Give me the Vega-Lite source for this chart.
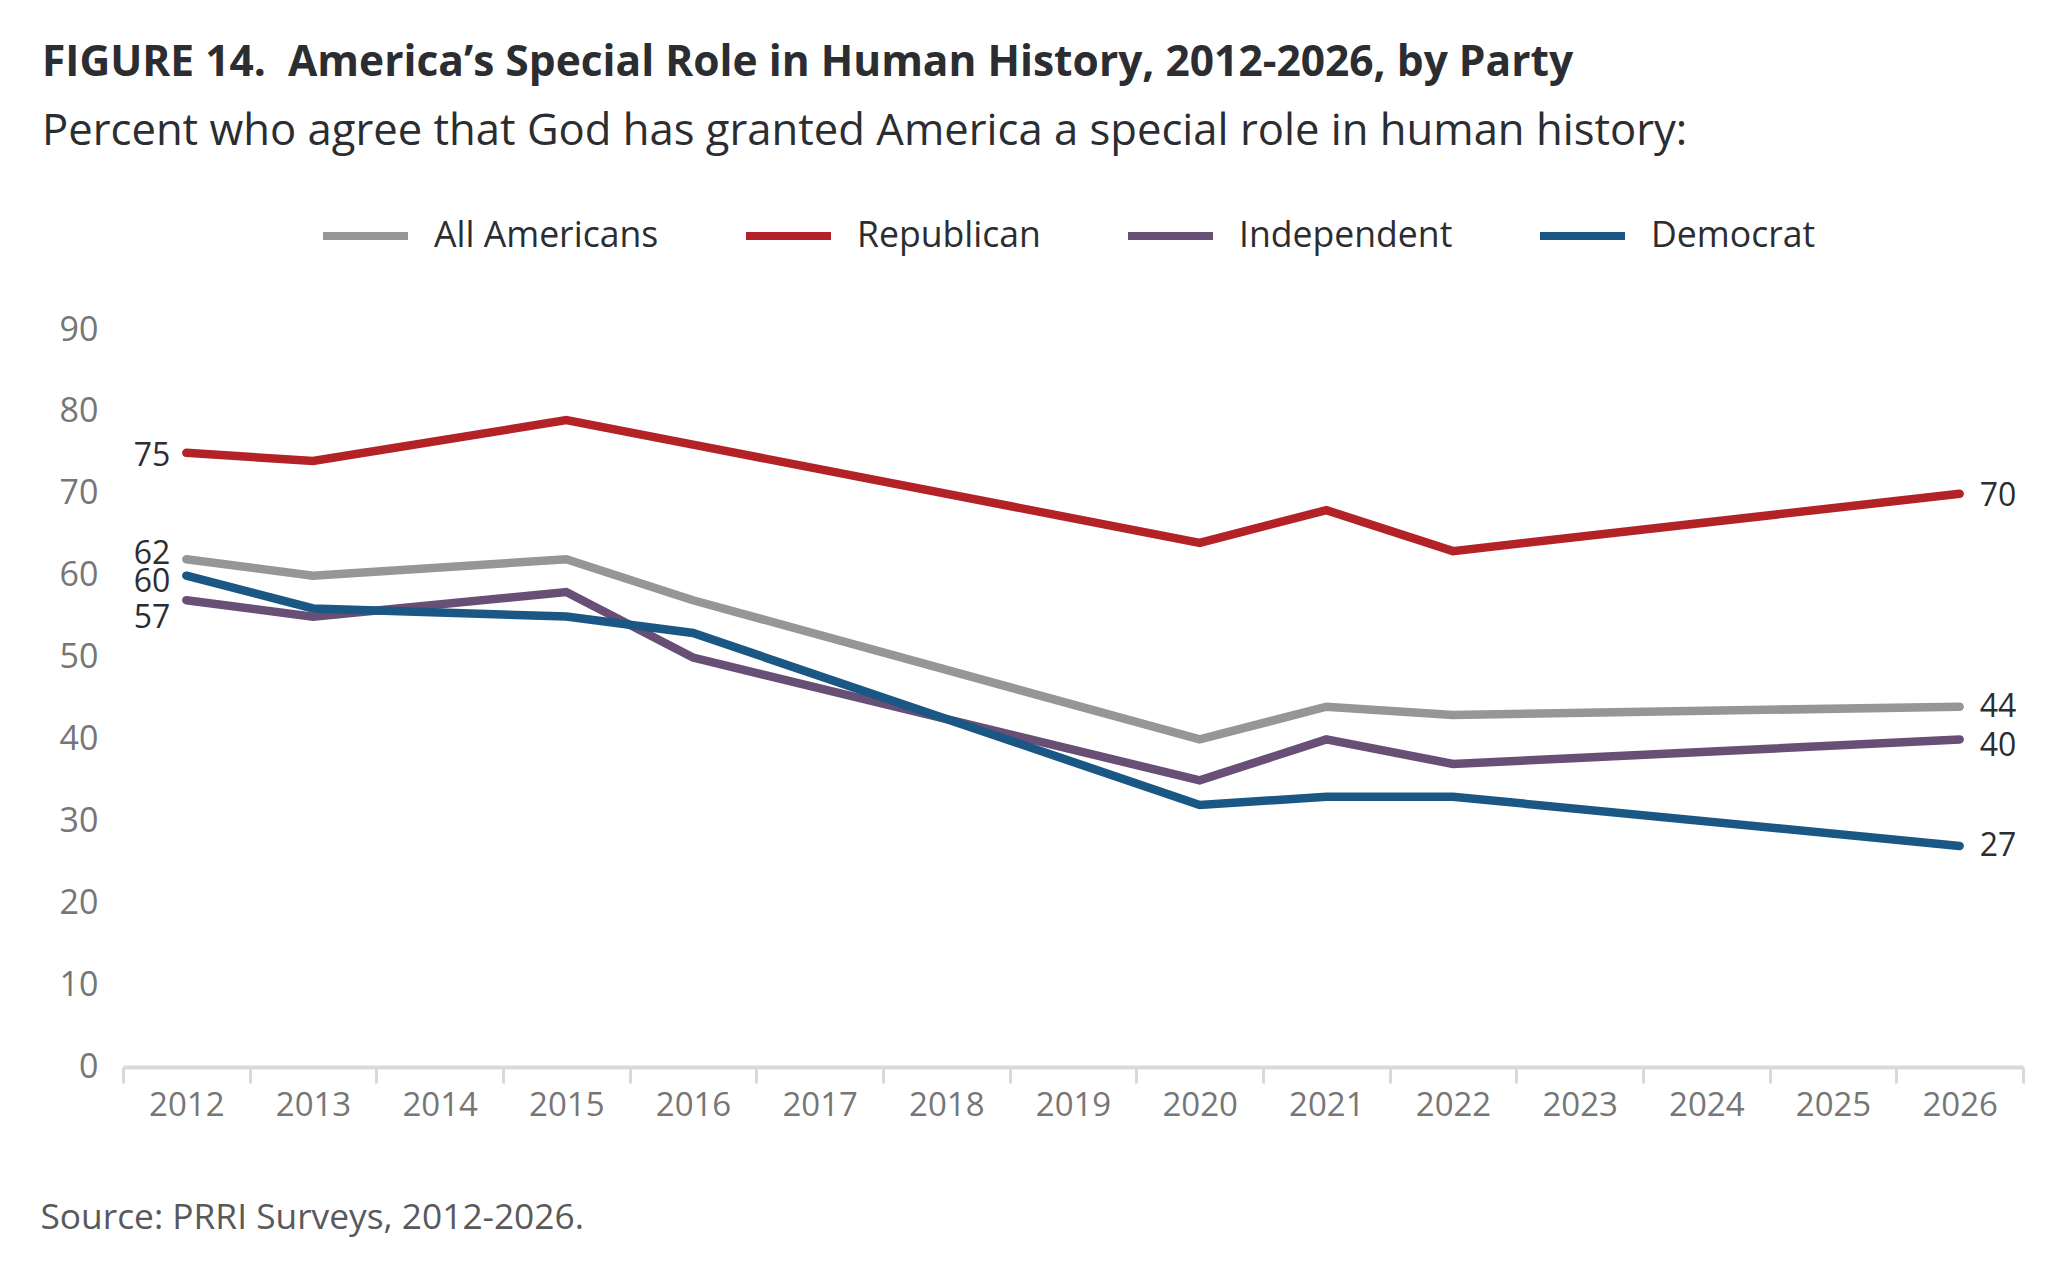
{
  "$schema": "https://vega.github.io/schema/vega-lite/v6.json",
  "width": 1900,
  "height": 737,
  "autosize": "none",
  "padding": {"left": 123, "top": 330, "right": 41, "bottom": 201},
  "background": "white",
  "config": {
    "view": {"stroke": null},
    "font": "Open Sans"
  },
  "title": {
    "text": "FIGURE 14.\u00a0 America\u2019s Special Role in Human History, 2012-2026, by Party",
    "subtitle": "Percent who agree that God has granted America a special role in human history:",
    "anchor": "start",
    "frame": "group",
    "dx": -81,
    "offset": 35,
    "font": "Open Sans",
    "fontSize": 42.5,
    "fontWeight": "bold",
    "color": "#2b2d31",
    "subtitleFont": "Open Sans",
    "subtitleFontSize": 43.6,
    "subtitleColor": "#2b2d31",
    "subtitlePadding": 27
  },
  "data": {
    "values": [
      {"year": 2012, "series": "All Americans", "value": 62},
      {"year": 2013, "series": "All Americans", "value": 60},
      {"year": 2015, "series": "All Americans", "value": 62},
      {"year": 2016, "series": "All Americans", "value": 57},
      {"year": 2020, "series": "All Americans", "value": 40},
      {"year": 2021, "series": "All Americans", "value": 44},
      {"year": 2022, "series": "All Americans", "value": 43},
      {"year": 2026, "series": "All Americans", "value": 44},
      {"year": 2012, "series": "Republican", "value": 75},
      {"year": 2013, "series": "Republican", "value": 74},
      {"year": 2015, "series": "Republican", "value": 79},
      {"year": 2016, "series": "Republican", "value": 76},
      {"year": 2020, "series": "Republican", "value": 64},
      {"year": 2021, "series": "Republican", "value": 68},
      {"year": 2022, "series": "Republican", "value": 63},
      {"year": 2026, "series": "Republican", "value": 70},
      {"year": 2012, "series": "Independent", "value": 57},
      {"year": 2013, "series": "Independent", "value": 55},
      {"year": 2015, "series": "Independent", "value": 58},
      {"year": 2016, "series": "Independent", "value": 50},
      {"year": 2020, "series": "Independent", "value": 35},
      {"year": 2021, "series": "Independent", "value": 40},
      {"year": 2022, "series": "Independent", "value": 37},
      {"year": 2026, "series": "Independent", "value": 40},
      {"year": 2012, "series": "Democrat", "value": 60},
      {"year": 2013, "series": "Democrat", "value": 56},
      {"year": 2015, "series": "Democrat", "value": 55},
      {"year": 2016, "series": "Democrat", "value": 53},
      {"year": 2020, "series": "Democrat", "value": 32},
      {"year": 2021, "series": "Democrat", "value": 33},
      {"year": 2022, "series": "Democrat", "value": 33},
      {"year": 2026, "series": "Democrat", "value": 27}
    ]
  },
  "encoding": {
    "x": {
      "field": "year",
      "type": "ordinal",
      "bandPosition": 0.5,
      "scale": {
        "type": "band",
        "domain": [2012, 2013, 2014, 2015, 2016, 2017, 2018, 2019, 2020, 2021, 2022, 2023, 2024, 2025, 2026],
        "paddingInner": 0,
        "paddingOuter": 0
      },
      "axis": {
        "title": "Source: PRRI Surveys, 2012-2026.",
        "titleAnchor": "start",
        "titleAlign": "left",
        "titleX": -83,
        "titleY": 150,
        "titleBaseline": "middle",
        "titleFont": "Open Sans",
        "titleFontSize": 35.3,
        "titleFontWeight": "normal",
        "titleColor": "#58595b",
        "labelAngle": 0,
        "labelFont": "Open Sans",
        "labelFontSize": 33,
        "labelColor": "#767676",
        "labelPadding": 6,
        "tickBand": "extent",
        "tickColor": "#d9d9d9",
        "tickWidth": 3,
        "tickSize": 16,
        "domainColor": "#d9d9d9",
        "domainWidth": 4,
        "grid": false
      }
    },
    "y": {
      "field": "value",
      "type": "quantitative",
      "scale": {"domain": [0, 90], "nice": false},
      "axis": {
        "title": null,
        "values": [0, 10, 20, 30, 40, 50, 60, 70, 80, 90],
        "grid": false,
        "domain": false,
        "ticks": false,
        "labelFont": "Open Sans",
        "labelFontSize": 34,
        "labelColor": "#767676",
        "labelPadding": 25
      }
    }
  },
  "layer": [
    {
      "mark": {"type": "line", "strokeWidth": 8.5, "strokeCap": "round"},
      "encoding": {
        "color": {
          "field": "series",
          "type": "nominal",
          "scale": {
            "domain": ["All Americans", "Republican", "Independent", "Democrat"],
            "range": ["#959698", "#b22227", "#674f75", "#1b5784"]
          },
          "legend": {
            "title": null,
            "orient": "none",
            "direction": "horizontal",
            "legendX": 196,
            "legendY": -141,
            "padding": 0,
            "columnPadding": 71,
            "symbolType": "stroke",
            "symbolSize": 7225,
            "symbolStrokeWidth": 8,
            "labelOffset": 22,
            "labelFont": "Open Sans",
            "labelFontSize": 35.6,
            "labelColor": "#2b2d31",
            "labelLimit": 500
          }
        }
      }
    },
    {
      "transform": [{"filter": "datum.year === 2012 && datum.series === 'Republican'"}],
      "mark": {"type": "text", "align": "right", "baseline": "middle", "dx": -16, "dy": 3, "fontSize": 32, "color": "#2b2d31"},
      "encoding": {"text": {"field": "value", "type": "quantitative"}}
    },
    {
      "transform": [{"filter": "datum.year === 2012 && datum.series === 'All Americans'"}],
      "mark": {"type": "text", "align": "right", "baseline": "middle", "dx": -16, "dy": -5, "fontSize": 32, "color": "#2b2d31"},
      "encoding": {"text": {"field": "value", "type": "quantitative"}}
    },
    {
      "transform": [{"filter": "datum.year === 2012 && datum.series === 'Democrat'"}],
      "mark": {"type": "text", "align": "right", "baseline": "middle", "dx": -16, "dy": 6, "fontSize": 32, "color": "#2b2d31"},
      "encoding": {"text": {"field": "value", "type": "quantitative"}}
    },
    {
      "transform": [{"filter": "datum.year === 2012 && datum.series === 'Independent'"}],
      "mark": {"type": "text", "align": "right", "baseline": "middle", "dx": -16, "dy": 18, "fontSize": 32, "color": "#2b2d31"},
      "encoding": {"text": {"field": "value", "type": "quantitative"}}
    },
    {
      "transform": [{"filter": "datum.year === 2026 && datum.series === 'Republican'"}],
      "mark": {"type": "text", "align": "left", "baseline": "middle", "dx": 20, "dy": 2, "fontSize": 32, "color": "#2b2d31"},
      "encoding": {"text": {"field": "value", "type": "quantitative"}}
    },
    {
      "transform": [{"filter": "datum.year === 2026 && (datum.series === 'All Americans' || datum.series === 'Democrat')"}],
      "mark": {"type": "text", "align": "left", "baseline": "middle", "dx": 20, "fontSize": 32, "color": "#2b2d31"},
      "encoding": {"text": {"field": "value", "type": "quantitative"}}
    },
    {
      "transform": [{"filter": "datum.year === 2026 && datum.series === 'Independent'"}],
      "mark": {"type": "text", "align": "left", "baseline": "middle", "dx": 20, "dy": 7, "fontSize": 32, "color": "#2b2d31"},
      "encoding": {"text": {"field": "value", "type": "quantitative"}}
    }
  ]
}
